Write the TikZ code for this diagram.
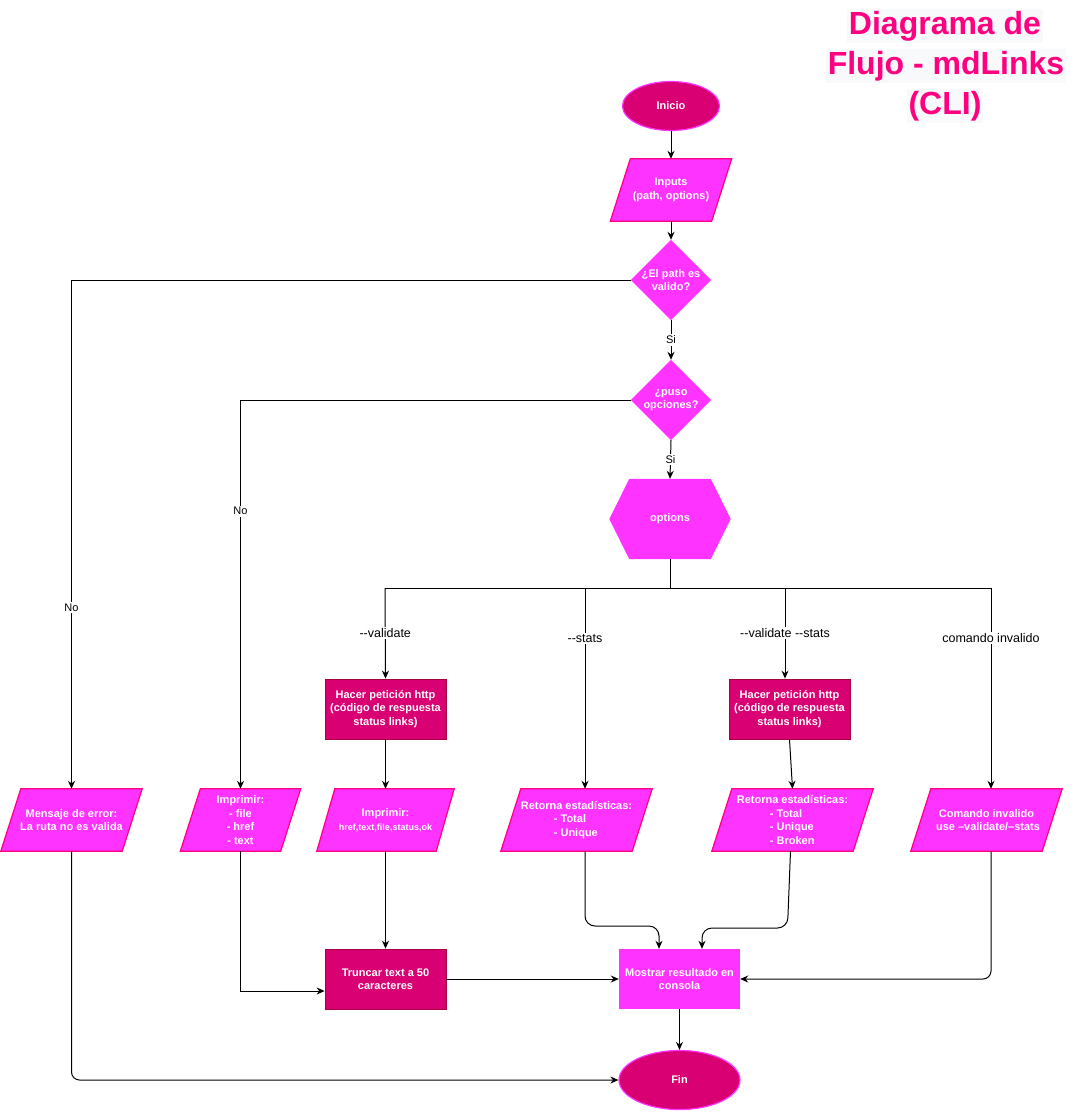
\documentclass[tikz,border=0pt]{standalone}
\usepackage{fontspec}
\setmainfont{Liberation Sans}
\usetikzlibrary{shapes.geometric,arrows.meta}
\pgfdeclarelayer{background}
\pgfsetlayers{background,main}
\definecolor{lightpink}{HTML}{FF33FF}
\definecolor{darkpink}{HTML}{D80073}
\definecolor{darkedge}{HTML}{A50040}
\definecolor{paraedge}{HTML}{FF0080}
\definecolor{titlepink}{HTML}{FF0080}
\definecolor{titlebg}{HTML}{F8F9FA}
\newcommand\parabg[2]{%
  \begin{pgfonlayer}{background}
  \filldraw[fill=lightpink, draw=paraedge, line width=1.2pt]
    ([xshift=#2]#1.north west) -- (#1.north east) -- ([xshift=-#2]#1.south east) -- (#1.south west) -- cycle;
  \end{pgfonlayer}}
\begin{document}
\begin{tikzpicture}[x=1pt,y=-1pt,
  base/.style={inner sep=0pt, align=center, text=white, font=\fontsize{11}{13.5}\selectfont\bfseries},
  term/.style={base, ellipse, fill=darkpink, draw=lightpink, line width=1.2pt},
  proc/.style={base, rectangle, fill=darkpink, draw=darkedge, line width=0.8pt, minimum width=121pt, minimum height=60pt},
  io/.style={base, rectangle, minimum height=62pt, minimum width=#1},
  ghost/.style={base, rectangle},
  arr/.style={-{Stealth[length=8pt,width=7pt]}, line width=1pt},
  plain/.style={line width=1pt},
  lab/.style={font=\fontsize{11}{13}\selectfont, text=black, fill=white, inner sep=1.5pt},
  blab/.style={lab, font=\fontsize{12.5}{14}\selectfont},
  titlestyle/.style={font=\fontsize{32}{38}\selectfont\bfseries, text=titlepink, fill=titlebg, inner sep=2pt}
]
\begin{pgfonlayer}{background}
\fill[white] (0,0) rectangle (1092,1112);
\end{pgfonlayer}
\path[use as bounding box] (0,0) rectangle (1092,1112);

% title
\node[titlestyle] (t1) at (945,26) {Diagrama de};
\node[titlestyle] (t2) at (946,66) {Flujo - mdLinks};
\node[titlestyle] (t3) at (945,106) {(CLI)};

% nodes
\node[term, minimum width=97pt, minimum height=49pt] (ini) at (671,106) {Inicio};
\node[io=121pt] (inp) at (671,190) {Inputs\\(path, options)};
\parabg{inp}{20pt}
\node[ghost, minimum width=80pt, minimum height=80pt] (d1) at (671,280) {¿El path es\\valido?};
\node[ghost, minimum width=80pt, minimum height=80pt] (d2) at (671,400) {¿puso\\opciones?};
\begin{pgfonlayer}{background}
\fill[lightpink] (d1.north) -- (d1.east) -- (d1.south) -- (d1.west) -- cycle;
\fill[lightpink] (d2.north) -- (d2.east) -- (d2.south) -- (d2.west) -- cycle;
\end{pgfonlayer}
\node[ghost, minimum width=121pt, minimum height=80pt] (hx) at (670,519) {options};
\begin{pgfonlayer}{background}
\fill[lightpink] ([xshift=20pt]hx.north west) -- ([xshift=-20pt]hx.north east) -- (hx.east) -- ([xshift=-20pt]hx.south east) -- ([xshift=20pt]hx.south west) -- (hx.west) -- cycle;
\end{pgfonlayer}

\coordinate (j) at (670,588);
\coordinate (b1) at (385,588);
\coordinate (b2) at (585,588);
\coordinate (b3) at (785,588);
\coordinate (b4) at (991,588);

\node[proc] (h1) at (385.5,709) {Hacer petición http\\(código de respuesta\\status links)};
\node[proc] (h2) at (789.5,709) {Hacer petición http\\(código de respuesta\\status links)};

\node[io=141pt] (mens) at (71.5,820) {Mensaje de error:\\La ruta no es valida};
\parabg{mens}{20pt}
\node[io=120pt] (i1) at (240.5,820) {Imprimir:\\- file\\- href\\- text};
\parabg{i1}{20pt}
\node[io=137pt] (i2) at (385.5,820) {Imprimir:\\[1pt]{\fontsize{9}{11}\selectfont href,text,file,status,ok}};
\parabg{i2}{18pt}
\node[io=151pt, align=left] (r1) at (576.5,820) {Retorna estadísticas:\\\hspace*{33pt}- Total\\\hspace*{33pt}- Unique};
\parabg{r1}{20pt}
\node[io=161pt, align=left] (r2) at (792.5,820) {Retorna estadísticas:\\\hspace*{33pt}- Total\\\hspace*{33pt}- Unique\\\hspace*{33pt}- Broken};
\parabg{r2}{20pt}
\node[io=151pt] (com) at (986.5,820) {Comando invalido\\\ use --validate/--stats};
\parabg{com}{20pt}

\node[proc] (tr) at (385.5,979) {Truncar text a 50\\caracteres};
\node[base, rectangle, fill=lightpink, minimum width=121pt, minimum height=60pt] (mo) at (679.5,979) {Mostrar resultado en\\consola};
\node[term, minimum width=121pt, minimum height=59pt] (fin) at (679.5,1080) {Fin};

% connectors
\draw[arr] (ini.south) -- (inp.north);
\draw[arr] (inp.south) -- (d1.north);
\draw[arr] (d1.south) -- node[lab]{Si} (d2.north);
\draw[arr] (d2.south) -- node[lab]{Si} (hx.north);
\draw[arr] (d1.west) -| node[lab, pos=0.822]{No} (mens.north);
\draw[arr] (d2.west) -| node[lab, pos=0.643]{No} (i1.north);
\draw[plain] (hx.south) -- (j);
\draw[plain] (b1) -- (b4);
\draw[arr] (b1) -- node[blab]{-{}-validate} (h1.north);
\draw[arr] (b2) -- node[blab, pos=0.25]{-{}-stats} (b2 |- r1.north);
\draw[arr] (b3) -- node[blab]{-{}-validate -{}-stats} (b3 |- h2.north);
\draw[arr] (b4) -- node[blab, pos=0.25]{comando invalido} (b4 |- com.north);
\draw[arr] (h1.south) -- (i2.north);
\draw[arr] (h2.south) -- (r2.north);
\draw[arr] (i1.south) |- ([yshift=-12pt]tr.west);
\draw[arr] (i2.south) -- (tr.north);
\draw[arr] (tr.east) -- (mo.west);
\coordinate (m1) at ([xshift=-20.5pt]mo.north);
\coordinate (m2) at ([xshift=22.5pt]mo.north);
\draw[arr, rounded corners=10pt] (b2 |- r1.south) -- (b2 |- 0,926) -- (m1 |- 0,926) -- (m1);
\draw[arr, rounded corners=10pt] ([xshift=-2pt]r2.south) -- ([xshift=-5pt]r2.south |- 0,928) -- (m2 |- 0,928) -- (m2);
\draw[arr, rounded corners=8pt] (b4 |- com.south) |- (mo.east);
\draw[arr] (mo.south) -- (fin.north);
\draw[arr, rounded corners=8pt] (mens.south) |- (fin.west);
\end{tikzpicture}
\end{document}
